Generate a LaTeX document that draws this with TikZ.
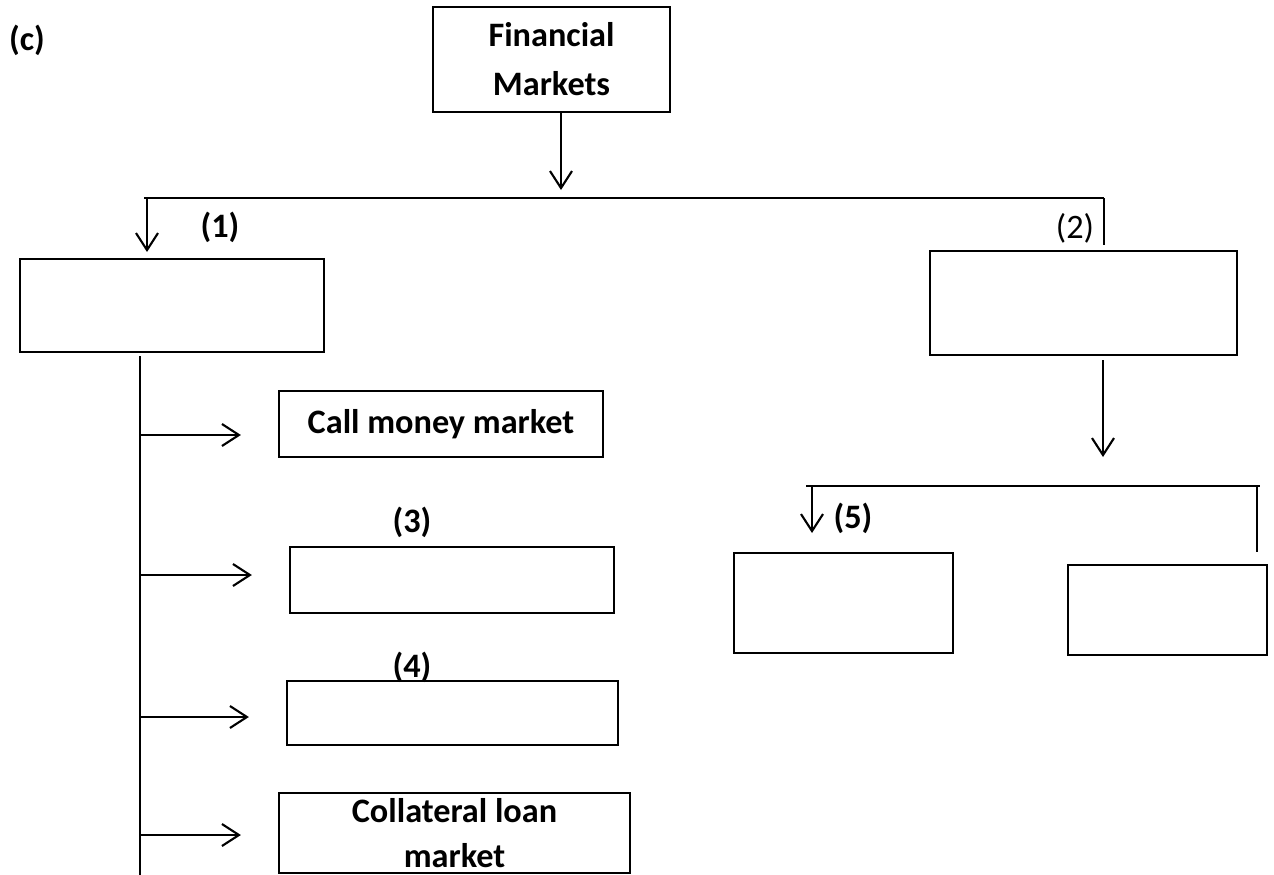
\documentclass[tikz,border=0pt]{standalone}
\usepackage{fontspec}
\setmainfont{Carlito}
\usepackage{tikz}
\usetikzlibrary{positioning, arrows.meta, calc}

\tikzset{
    box/.style={draw, line width=1.3pt, inner sep=0pt, align=center,
                font=\fontsize{19.5}{26}\selectfont\bfseries},
    tag/.style={inner sep=0pt, font=\fontsize{19.5}{24}\selectfont\bfseries},
    link/.style={line width=1.2pt},
    arr/.style={link, -{Straight Barb[length=0.34cm, width=0.44cm]}}
}

\begin{document}
\begin{tikzpicture}[x=0.02cm, y=-0.02cm]
    \useasboundingbox (0,0) rectangle (1274,875);

    % top
    \node[tag] (c) at (27,40) {(c)};
    \node[box, minimum width=4.74cm, minimum height=2.1cm] (fm) at (551.5,59.5) {Financial\\[2pt]Markets};

    % first level
    \node[box, minimum width=6.08cm, minimum height=1.86cm] (m1) at (172,305.5) {};
    \node[box, minimum width=6.14cm, minimum height=2.08cm] (m2) at (1083.5,303) {};
    \node[tag] (l1) at (220,227) {(1)};
    \node[tag, font=\fontsize{19.5}{24}\selectfont] (l2) at (1075,228) {(2)};

    % left column
    \node[box, minimum width=6.48cm, minimum height=1.32cm] (call) at (441,424) {Call money market};
    \node[box, minimum width=6.48cm, minimum height=1.32cm] (mm3) at (452,580) {};
    \node[box, minimum width=6.62cm, minimum height=1.28cm] (mm4) at (452.5,713) {};
    \node[box, minimum width=7.02cm, minimum height=1.6cm] (coll) at (454.5,833) {Collateral loan\\market};
    \node[tag] (l3) at (412,522) {(3)};
    \node[tag] (l4) at (412,667) {(4)};

    % right column
    \node[box, minimum width=4.38cm, minimum height=2cm] (m5) at (843.5,603) {};
    \node[box, minimum width=3.98cm, minimum height=1.8cm] (m6) at (1167.5,610) {};
    \node[tag] (l5) at (853,518) {(5)};

    % connectors
    \coordinate (split) at (561,190);
    \coordinate (barL) at (144,198);
    \coordinate (barR) at (1104,198);
    \coordinate (d1) at (147,252);
    \coordinate (d2) at (1104,245);
    \draw[arr] (split |- fm.south) -- (split);
    \draw[link] (barL) -- (barR);
    \draw[arr] (d1 |- barL) -- (d1);
    \draw[link] (barR) -- (d2);

    \coordinate (spineB) at (140,875);
    \draw[link] ($(spineB |- m1.south)+(0,3)$) -- (spineB);
    \foreach \n/\dy in {call/11, mm3/-5, mm4/4, coll/2}
        \draw[arr] ($(spineB |- \n.west)+(0,\dy)$) -- ($(\n.west)+(-37,\dy)$);

    \coordinate (split2) at (1103,457);
    \coordinate (bar2L) at (806,486);
    \coordinate (bar2R) at (1260,486);
    \coordinate (d5) at (812,533);
    \coordinate (d6) at (1257,552);
    \draw[arr] ($(split2 |- m2.south)+(0,4)$) -- (split2);
    \draw[link] (bar2L) -- (bar2R);
    \draw[arr] (d5 |- bar2L) -- (d5);
    \draw[link] (d6 |- bar2R) -- (d6);
\end{tikzpicture}
\end{document}
